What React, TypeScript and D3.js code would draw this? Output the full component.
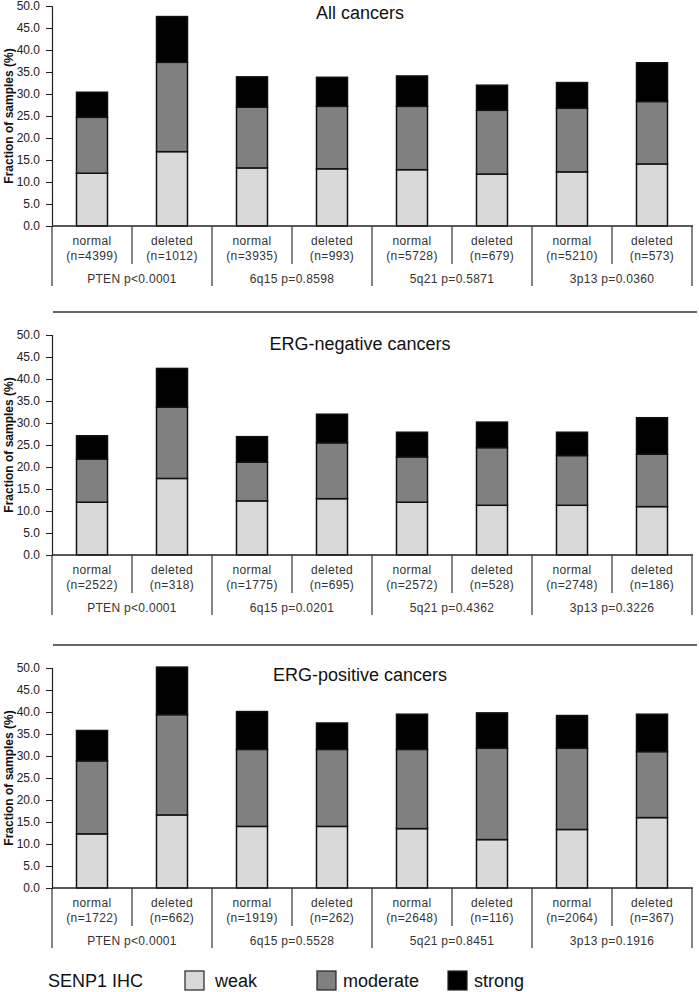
import React, { useEffect, useRef } from 'react';
import * as d3 from 'd3';

// categories along the x axis
const groups = ['PTEN', '6q15', '5q21', '3p13'];
const statuses = ['normal', 'deleted'];
const levels = ['weak', 'moderate', 'strong'];
const levelColors = ['#d9d9d9', '#808080', '#000000'];

const panelTitles = ['All cancers', 'ERG-negative cancers', 'ERG-positive cancers'];

// p values per panel, one per group
const pValues = [
    ['p<0.0001', 'p=0.8598', 'p=0.5871', 'p=0.0360'],
    ['p<0.0001', 'p=0.0201', 'p=0.4362', 'p=0.3226'],
    ['p<0.0001', 'p=0.5528', 'p=0.8451', 'p=0.1916'],
];

// sample counts per panel, normal/deleted for each group
const nAll = [4399, 1012, 3935, 993, 5728, 679, 5210, 573];
const nNeg = [2522, 318, 1775, 695, 2572, 528, 2748, 186];
const nPos = [1722, 662, 1919, 262, 2648, 116, 2064, 367];

// percentages (weak, moderate, strong) for each bar
const weakAll = [12.0, 16.9, 13.2, 13.0, 12.8, 11.8, 12.3, 14.1];
const moderateAll = [12.7, 20.3, 13.8, 14.2, 14.4, 14.5, 14.5, 14.2];
const strongAll = [5.7, 10.4, 6.9, 6.6, 6.9, 5.7, 5.8, 8.8];

const weakNeg = [12.0, 17.4, 12.3, 12.8, 12.0, 11.3, 11.3, 11.0];
const moderateNeg = [9.8, 16.2, 8.8, 12.7, 10.3, 13.1, 11.3, 11.9];
const strongNeg = [5.3, 8.8, 5.8, 6.5, 5.6, 5.8, 5.3, 8.3];

const weakPos = [12.3, 16.6, 14.0, 14.0, 13.5, 11.0, 13.3, 16.0];
const moderatePos = [16.6, 22.8, 17.5, 17.5, 18.0, 20.8, 18.5, 15.0];
const strongPos = [6.9, 10.8, 8.6, 6.0, 8.0, 8.0, 7.4, 8.5];

const yTicks = d3.range(0, 50.01, 5);

const App: React.FC = () => {
    const ref = useRef<SVGSVGElement | null>(null);

    useEffect(() => {
        if (!ref.current) return;
        const width = 699;
        const height = 992;
        const left = 52;
        const right = 692;
        const font = 'Liberation Sans, Arial, sans-serif';

        const svg = d3.select(ref.current)
            .attr('width', width)
            .attr('height', height)
            .attr('viewBox', `0 0 ${width} ${height}`);
        svg.selectAll('*').remove();

        const panels = [
            { n: nAll, weak: weakAll, moderate: moderateAll, strong: strongAll, base: 226, titleY: 19 },
            { n: nNeg, weak: weakNeg, moderate: moderateNeg, strong: strongNeg, base: 555, titleY: 350 },
            { n: nPos, weak: weakPos, moderate: moderatePos, strong: strongPos, base: 888, titleY: 681 },
        ];

        const cats = groups.flatMap(g => statuses.map(s => `${g}-${s}`));
        const x = d3.scaleBand<string>()
            .domain(cats)
            .range([left, right])
            .paddingInner(0.6125)
            .paddingOuter(0.30625);
        const step = x.step();

        const stack = d3.stack<any>().keys(levels);

        panels.forEach((p, pi) => {
            const y = d3.scaleLinear().domain([0, 50]).range([p.base, p.base - 220]);
            const g = svg.append('g');

            // separator line above the panel
            if (pi > 0) {
                g.append('line')
                    .attr('x1', 53).attr('x2', 697)
                    .attr('y1', p.base - 243).attr('y2', p.base - 243)
                    .attr('stroke', '#333').attr('stroke-width', 1.5);
            }

            // title
            g.append('text')
                .attr('x', 360).attr('y', p.titleY)
                .attr('text-anchor', 'middle')
                .attr('font-family', font).attr('font-size', '18px')
                .attr('fill', '#111')
                .text(panelTitles[pi]);

            // y axis
            g.append('g')
                .attr('transform', `translate(${left},0)`)
                .call(d3.axisLeft(y).tickValues(yTicks).tickFormat(d3.format('.1f')).tickSize(6).tickPadding(6))
                .call(a => a.select('.domain').attr('stroke', '#222').attr('stroke-width', 1.2))
                .call(a => a.selectAll('.tick line').attr('stroke', '#222'))
                .call(a => a.selectAll('.tick text').attr('fill', '#222').attr('font-size', '12px').attr('font-family', font));

            g.append('text')
                .attr('transform', 'rotate(-90)')
                .attr('x', -(p.base - 110)).attr('y', 13)
                .attr('text-anchor', 'middle')
                .attr('font-family', font).attr('font-size', '12px').attr('font-weight', 'bold')
                .attr('fill', '#111')
                .text('Fraction of samples (%)');

            // bars
            const rows = cats.map((c, i) => ({ cat: c, weak: p.weak[i], moderate: p.moderate[i], strong: p.strong[i] }));
            const series = stack(rows);
            series.forEach((s, si) => {
                g.append('g')
                    .selectAll('rect')
                    .data(s)
                    .join('rect')
                    .attr('x', d => x(d.data.cat) as number)
                    .attr('width', x.bandwidth())
                    .attr('y', d => y(d[1]))
                    .attr('height', d => y(d[0]) - y(d[1]))
                    .attr('fill', levelColors[si])
                    .attr('stroke', '#111')
                    .attr('stroke-width', 1.5);
            });

            // x axis baseline
            g.append('line')
                .attr('x1', left).attr('x2', right + 1)
                .attr('y1', p.base).attr('y2', p.base)
                .attr('stroke', '#222').attr('stroke-width', 1.5);

            // category table lines
            d3.range(groups.length + 1).forEach(k => {
                const gx = left + k * 2 * step;
                g.append('line')
                    .attr('x1', gx).attr('x2', gx)
                    .attr('y1', p.base).attr('y2', p.base + 60)
                    .attr('stroke', '#333').attr('stroke-width', 1.2);
            });
            groups.forEach((_, k) => {
                const sx = left + (k * 2 + 1) * step;
                g.append('line')
                    .attr('x1', sx).attr('x2', sx)
                    .attr('y1', p.base).attr('y2', p.base + 38)
                    .attr('stroke', '#333').attr('stroke-width', 1.2);
            });

            // category labels
            cats.forEach((c, i) => {
                const cx = (x(c) as number) + x.bandwidth() / 2;
                g.append('text')
                    .attr('x', cx).attr('y', p.base + 19)
                    .attr('text-anchor', 'middle')
                    .attr('font-family', font).attr('font-size', '12px')
                    .attr('letter-spacing', '0.4px')
                    .attr('fill', '#333')
                    .text(statuses[i % 2]);
                g.append('text')
                    .attr('x', cx).attr('y', p.base + 34)
                    .attr('text-anchor', 'middle')
                    .attr('font-family', font).attr('font-size', '12px')
                    .attr('letter-spacing', '0.4px')
                    .attr('fill', '#333')
                    .text(`(n=${p.n[i]})`);
            });
            groups.forEach((gr, k) => {
                g.append('text')
                    .attr('x', left + (k * 2 + 1) * step).attr('y', p.base + 57)
                    .attr('text-anchor', 'middle')
                    .attr('font-family', font).attr('font-size', '12px')
                    .attr('letter-spacing', '0.3px')
                    .attr('fill', '#333')
                    .text(`${gr} ${pValues[pi][k]}`);
            });
        });

        // legend
        const lg = svg.append('g');
        lg.append('text')
            .attr('x', 48).attr('y', 987)
            .attr('font-family', font).attr('font-size', '18px')
            .attr('fill', '#111')
            .text('SENP1 IHC');
        const legendX = [185, 317, 448];
        levels.forEach((lv, i) => {
            lg.append('rect')
                .attr('x', legendX[i]).attr('y', 971)
                .attr('width', 19).attr('height', 19)
                .attr('fill', levelColors[i])
                .attr('stroke', '#222').attr('stroke-width', 1.2);
            lg.append('text')
                .attr('x', legendX[i] + (i === 0 ? 30 : 26)).attr('y', 987)
                .attr('font-family', font).attr('font-size', '18px')
                .attr('fill', '#111')
                .text(lv);
        });
    }, []);

    return (
        <svg
            ref={ref}
            style={{ position: 'absolute', left: 0, top: 0, display: 'block', background: '#fff' }}
        />
    );
};

export default App;
